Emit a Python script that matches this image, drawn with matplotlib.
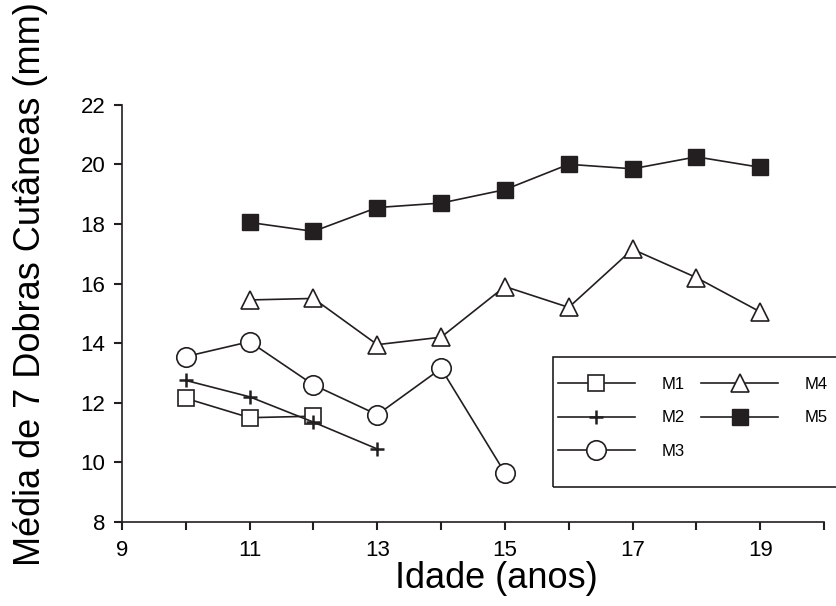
import numpy as np
import matplotlib
matplotlib.use("Agg")
import matplotlib.pyplot as plt
from matplotlib.patches import Rectangle

plt.rcParams['font.family'] = ['Liberation Sans', 'DejaVu Sans']

# ---- data (mean of 7 skinfolds, mm, by age) ----
ages_m1 = [10, 11, 12]
m1 = [12.15, 11.5, 11.55]

ages_m2 = [10, 11, 12, 13]
m2 = [12.75, 12.2, 11.35, 10.45]

ages_m3 = [10, 11, 12, 13, 14, 15]
m3 = [13.55, 14.05, 12.6, 11.6, 13.15, 9.65]

ages_m4 = [11, 12, 13, 14, 15, 16, 17, 18, 19]
m4 = [15.45, 15.5, 13.95, 14.2, 15.9, 15.2, 17.15, 16.2, 15.05]

ages_m5 = [11, 12, 13, 14, 15, 16, 17, 18, 19]
m5 = [18.05, 17.75, 18.55, 18.7, 19.15, 20.0, 19.85, 20.25, 19.9]

x_ticks = [9, 11, 13, 15, 17, 19]
y_ticks = [8, 10, 12, 14, 16, 18, 20, 22]

ink = '#231f20'

fig = plt.figure(figsize=(8.36, 6.06), dpi=100)
ax = fig.add_axes([122 / 836, 1 - 522 / 606, (824 - 122) / 836, (522 - 104.7) / 606])

lw = 1.2
ax.plot(ages_m1, m1, color=ink, lw=lw, marker='s', ms=11.5, mfc='white', mec=ink, mew=1.2, label='M1')
ax.plot(ages_m2, m2, color=ink, lw=lw, marker='+', ms=10, mec=ink, mew=1.8, label='M2')
ax.plot(ages_m3, m3, color=ink, lw=lw, marker='o', ms=14, mfc='white', mec=ink, mew=1.2, label='M3')
ax.plot(ages_m4, m4, color=ink, lw=lw, marker='^', ms=12.5, mfc='white', mec=ink, mew=1.2, label='M4')
ax.plot(ages_m5, m5, color=ink, lw=lw, marker='s', ms=11.5, mfc=ink, mec=ink, label='M5')

ax.set_xlim(9, 20)
ax.set_ylim(8, 22)
ax.set_xticks(x_ticks)
ax.set_xticks(np.arange(10, 21, 2), minor=True)
ax.set_yticks(y_ticks)

for s in ['top', 'right']:
    ax.spines[s].set_visible(False)
for s in ['left', 'bottom']:
    ax.spines[s].set_color(ink)
    ax.spines[s].set_linewidth(1.2)

ax.tick_params(axis='both', which='both', direction='out', length=6, width=1.5, color=ink, labelsize=16)
ax.tick_params(axis='x', which='both', pad=7)
ax.tick_params(axis='y', pad=6)

fig.text(496 / 836, 1 - 579 / 606, 'Idade (anos)', fontsize=26, ha='center', va='center')
fig.text(31 / 836, 1 - 284 / 606, 'Média de 7 Dobras Cutâneas (mm)', fontsize=26,
         rotation=90, ha='center', va='center')

# legend box
fig.patches.append(Rectangle((552.7 / 836, 1 - 487.3 / 606), 0.5, 130 / 606,
                             transform=fig.transFigure, fill=False, ec=ink, lw=1.2))
leg = fig.legend(loc='upper left', bbox_to_anchor=(558 / 836, 1 - 377 / 606),
                 ncol=2, frameon=False, fontsize=12, handlelength=4.6, handletextpad=1.6,
                 columnspacing=1.0, labelspacing=1.1, borderpad=0, borderaxespad=0,
                 numpoints=1)

fig.savefig('out.png', dpi=100)
